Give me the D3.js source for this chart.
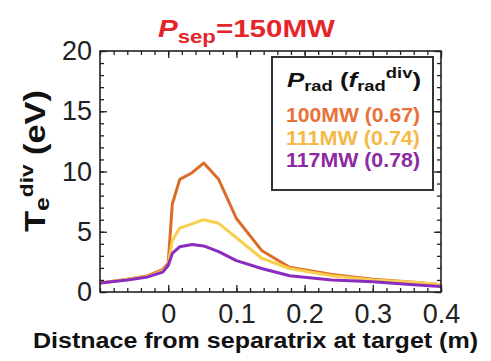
<!DOCTYPE html>
<html>
<head>
<meta charset="utf-8">
<script src="https://cdn.jsdelivr.net/npm/d3@7"></script>
<style>
  body { margin: 0; background: #fff; }
  svg { display: block; font-family: "Liberation Sans", Arial, sans-serif; }
</style>
</head>
<body>
<svg></svg>
<script>
// divertor electron temperature profiles for three radiated powers
const distance = [-0.1, -0.06, -0.03, -0.008, 0, 0.006, 0.017, 0.035, 0.052, 0.074, 0.1, 0.137, 0.178, 0.24, 0.3, 0.36, 0.4];
const te100 = [0.75, 1.05, 1.35, 1.85, 2.4, 7.3, 9.35, 9.9, 10.7, 9.35, 6.1, 3.45, 2.05, 1.45, 1.05, 0.8, 0.6];
const te111 = [0.75, 1.05, 1.3, 1.75, 2.2, 4.3, 5.3, 5.65, 6.0, 5.7, 4.5, 2.8, 1.95, 1.35, 1.0, 0.8, 0.6];
const te117 = [0.75, 1.0, 1.25, 1.65, 2.2, 3.2, 3.76, 3.95, 3.82, 3.35, 2.6, 1.95, 1.35, 1.0, 0.85, 0.6, 0.45];

const seriesNames = ["100MW (0.67)", "111MW (0.74)", "117MW (0.78)"];
const lineColors = ["#dd6b2a", "#f6cf4c", "#8b2cc0"];
const textColors = ["#e8723a", "#f5b947", "#8d2aa3"];

const xTicks = [0, 0.1, 0.2, 0.3, 0.4];
const yTicks = [0, 5, 10, 15, 20];
const xMinor = d3.range(-0.1, 0.4001, 0.02);
const yMinor = d3.range(0, 20.001, 1);

const W = 491, H = 361;
const margin = {top: 51, right: 50, bottom: 69, left: 100};
const width = W - margin.left - margin.right;
const height = H - margin.top - margin.bottom;

const svg = d3.select("svg").attr("width", W).attr("height", H);

const x = d3.scaleLinear().domain([-0.1, 0.4]).range([margin.left, margin.left + width]);
const y = d3.scaleLinear().domain([0, 20]).range([margin.top + height, margin.top]);

// profiles
const line = d3.line().x((d, i) => x(distance[i])).y(d => y(d));
[te100, te111, te117].forEach((vals, i) => {
  svg.append("path")
    .attr("fill", "none")
    .attr("stroke", lineColors[i])
    .attr("stroke-width", 3)
    .attr("stroke-linejoin", "round")
    .attr("d", line(vals));
});

// inward ticks on all four sides
function styleAxis(g) {
  g.select(".domain").remove();
  g.selectAll(".tick line").attr("stroke", "#222").attr("stroke-width", 1.3);
  g.selectAll(".tick text").attr("fill", "#222")
    .style("font-size", "27px").style("font-family", "'Liberation Sans', Arial, sans-serif");
}

const bottomY = y(0), topY = y(20), leftX = x(-0.1), rightX = x(0.4);

svg.append("g").attr("transform", `translate(0,${bottomY})`)
  .call(d3.axisBottom(x).tickValues(xMinor).tickSize(-4).tickFormat(""))
  .call(styleAxis);
svg.append("g").attr("transform", `translate(0,${bottomY})`)
  .call(d3.axisBottom(x).tickValues(xTicks).tickSize(-7).tickPadding(12).tickFormat(d3.format("")))
  .call(styleAxis);
svg.append("g").attr("transform", `translate(0,${topY})`)
  .call(d3.axisTop(x).tickValues(xMinor).tickSize(-4).tickFormat(""))
  .call(styleAxis);
svg.append("g").attr("transform", `translate(0,${topY})`)
  .call(d3.axisTop(x).tickValues(xTicks).tickSize(-7).tickFormat(""))
  .call(styleAxis);

svg.append("g").attr("transform", `translate(${leftX},0)`)
  .call(d3.axisLeft(y).tickValues(yMinor).tickSize(-4).tickFormat(""))
  .call(styleAxis);
svg.append("g").attr("transform", `translate(${leftX},0)`)
  .call(d3.axisLeft(y).tickValues(yTicks).tickSize(-7).tickPadding(8))
  .call(styleAxis);
svg.append("g").attr("transform", `translate(${rightX},0)`)
  .call(d3.axisRight(y).tickValues(yMinor).tickSize(-4).tickFormat(""))
  .call(styleAxis);
svg.append("g").attr("transform", `translate(${rightX},0)`)
  .call(d3.axisRight(y).tickValues(yTicks).tickSize(-7).tickFormat(""))
  .call(styleAxis);

svg.append("rect")
  .attr("x", leftX).attr("y", topY)
  .attr("width", rightX - leftX).attr("height", bottomY - topY)
  .attr("fill", "none").attr("stroke", "#222").attr("stroke-width", 1.6);

// title
const title = svg.append("text")
  .attr("x", 158).attr("y", 37)
  .attr("fill", "#e5252a").attr("font-weight", "bold").attr("font-size", 24)
  .attr("textLength", 177).attr("lengthAdjust", "spacingAndGlyphs");
title.append("tspan").attr("font-style", "italic").text("P");
title.append("tspan").attr("font-size", 18).attr("dy", 6).text("sep");
title.append("tspan").attr("dy", -6).text("=150MW");

// axis titles
svg.append("text")
  .attr("x", 33).attr("y", 348)
  .attr("fill", "#111").attr("font-weight", "bold").attr("font-size", 22)
  .attr("textLength", 445).attr("lengthAdjust", "spacingAndGlyphs")
  .text("Distnace from separatrix at target (m)");

const yTitle = svg.append("text")
  .attr("transform", "translate(45,232) rotate(-90)")
  .attr("fill", "#111").attr("font-weight", "bold").attr("font-size", 29)
  .attr("textLength", 142).attr("lengthAdjust", "spacingAndGlyphs");
yTitle.append("tspan").text("T");
yTitle.append("tspan").attr("font-size", 21).attr("dy", 4).text("e");
yTitle.append("tspan").attr("font-size", 19).attr("dy", -16).text("div");
yTitle.append("tspan").attr("dy", 12).text(" (eV)");

// legend
const lg = svg.append("g");
lg.append("rect")
  .attr("x", 272).attr("y", 57).attr("width", 161).attr("height", 133)
  .attr("fill", "#fff").attr("stroke", "#333").attr("stroke-width", 2);

const head = lg.append("text")
  .attr("x", 287).attr("y", 87)
  .attr("fill", "#111").attr("font-weight", "bold").attr("font-size", 21)
  .attr("textLength", 134).attr("lengthAdjust", "spacingAndGlyphs");
head.append("tspan").attr("font-style", "italic").text("P");
head.append("tspan").attr("font-size", 15).attr("dy", 4).text("rad");
head.append("tspan").attr("dy", -4).text(" (");
head.append("tspan").attr("font-style", "italic").text("f");
head.append("tspan").attr("font-size", 15).attr("dy", 4).text("rad");
head.append("tspan").attr("font-size", 15).attr("dy", -13).text("div");
head.append("tspan").attr("dy", 9).text(")");

seriesNames.forEach((name, i) => {
  lg.append("text")
    .attr("x", 286).attr("y", 122 + i * 22.5)
    .attr("fill", textColors[i]).attr("font-weight", "bold").attr("font-size", 21)
    .attr("textLength", 134).attr("lengthAdjust", "spacingAndGlyphs")
    .text(name);
});
</script>
</body>
</html>
